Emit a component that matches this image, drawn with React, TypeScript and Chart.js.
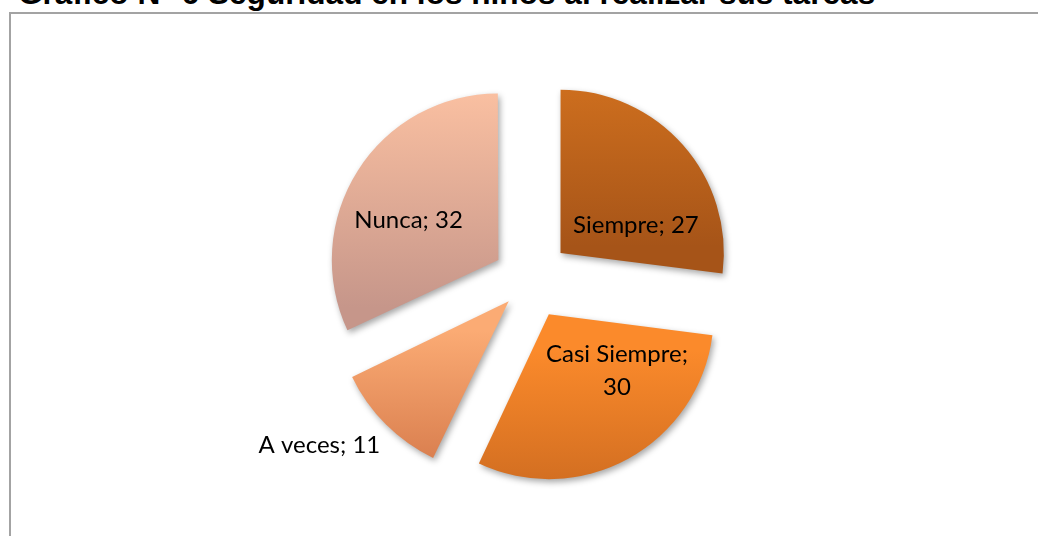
import React, { useEffect, useRef } from "react";
import { Chart, registerables } from "chart.js";

Chart.register(...registerables);

const TITLE = "Gráfico N° 6 Seguridad en los niños al realizar sus tareas";
const categories = ["Siempre", "Casi Siempre", "A veces", "Nunca"];
const values = [27, 30, 11, 32];

// [top, bottom] gradient colours per slice
const gradientColors = [
  ["#d3721f", "#a65418"],
  ["#fb8a2b", "#c9681f"],
  ["#fbab74", "#d5794a"],
  ["#fec3a3", "#c6968a"],
];
// label nudges (px) relative to the slice's default anchor
const labelNudges = [
  [14, 34],
  [28, -25],
  [-124, 86],
  [-18, 14],
];

const RADIUS = 163;
const EXPLODE = 41;
const LABEL_FONT = "24px Lato";

function sliceAngles(i: number) {
  const total = values.reduce((a, b) => a + b, 0);
  let start = 0;
  for (let k = 0; k < i; k++) start += values[k];
  const a0 = (start / total) * Math.PI * 2;
  const a1 = ((start + values[i]) / total) * Math.PI * 2;
  return [a0, a1];
}

export default function App() {
  const ref = useRef<HTMLCanvasElement | null>(null);

  useEffect(() => {
    document.body.style.margin = "0";
    const canvas = ref.current;
    if (!canvas) return;

    const shadowPlugin = {
      id: "shadow",
      beforeDatasetsDraw(chart: any) {
        const ctx = chart.ctx;
        ctx.save();
        ctx.shadowColor = "rgba(0,0,0,0.35)";
        ctx.shadowBlur = 6;
        ctx.shadowOffsetX = 2;
        ctx.shadowOffsetY = 3;
      },
      afterDatasetsDraw(chart: any) {
        chart.ctx.restore();
      },
    };

    const labelPlugin = {
      id: "sliceLabels",
      afterDraw(chart: any) {
        const ctx = chart.ctx;
        const meta = chart.getDatasetMeta(0);
        ctx.save();
        ctx.font = LABEL_FONT;
        ctx.fillStyle = "#000";
        ctx.textAlign = "center";
        ctx.textBaseline = "alphabetic";
        meta.data.forEach((arc: any, i: number) => {
          const p = arc.getProps(["x", "y", "startAngle", "endAngle", "outerRadius"], true);
          const mid = (p.startAngle + p.endAngle) / 2;
          const d = p.outerRadius / 2 + EXPLODE;
          const ax = p.x + Math.cos(mid) * d + labelNudges[i][0];
          const ay = p.y + Math.sin(mid) * d + labelNudges[i][1];
          const full = `${categories[i]}; ${values[i]}`;
          const lines = ctx.measureText(full).width > 150 ? [`${categories[i]};`, `${values[i]}`] : [full];
          lines.forEach((ln: string, k: number) => ctx.fillText(ln, ax, ay + k * 33));
        });
        ctx.restore();
      },
    };

    const chart = new Chart(canvas, {
      type: "pie",
      data: {
        labels: categories,
        datasets: [
          {
            data: values,
            borderWidth: 0,
            radius: RADIUS,
            offset: (c: any) => {
              const [a0, a1] = sliceAngles(c.dataIndex);
              const circ = a1 - a0;
              const fix = 1 - Math.sin(Math.min(Math.PI, circ));
              return (4 * EXPLODE) / (1 + fix);
            },
            backgroundColor: (c: any) => {
              const chart = c.chart;
              const area = chart.chartArea;
              const i = c.dataIndex;
              const cols = gradientColors[i];
              if (!area) return cols[0];
              const cx = (area.left + area.right) / 2;
              const cy = (area.top + area.bottom) / 2;
              const [a0, a1] = sliceAngles(i);
              const mid = (a0 + a1) / 2;
              const tx = Math.sin(mid) * EXPLODE;
              const ty = -Math.cos(mid) * EXPLODE;
              let ymin = cy + ty;
              let ymax = cy + ty;
              for (let s = 0; s <= 40; s++) {
                const t = a0 + ((a1 - a0) * s) / 40;
                const y = cy + ty - Math.cos(t) * RADIUS;
                ymin = Math.min(ymin, y);
                ymax = Math.max(ymax, y);
              }
              const g = chart.ctx.createLinearGradient(0, ymin, 0, ymax);
              g.addColorStop(0, cols[0]);
              g.addColorStop(1, cols[1]);
              return g;
            },
          } as any,
        ],
      },
      options: {
        responsive: false,
        animation: false,
        layout: { padding: { left: 22, right: 0, top: 24, bottom: 0 } },
        plugins: {
          legend: { display: false },
          tooltip: { enabled: false },
          title: { display: false },
        },
        events: [],
      },
      plugins: [shadowPlugin, labelPlugin],
    });
    return () => chart.destroy();
  }, []);

  return (
    <div
      style={{
        position: "fixed",
        left: 0,
        top: 0,
        width: 1038,
        height: 536,
        overflow: "hidden",
        background: "#fff",
      }}
    >
      <div
        style={{
          position: "absolute",
          left: 18,
          top: -23,
          whiteSpace: "nowrap",
          font: "bold 31.6px 'Liberation Sans', Arial, sans-serif",
          lineHeight: "32px",
          color: "#000",
        }}
      >
        {TITLE}
      </div>
      <div
        style={{
          position: "absolute",
          left: 9,
          top: 12,
          width: 1100,
          height: 600,
          border: "2px solid #a3a3a3",
          boxSizing: "border-box",
        }}
      />
      <canvas ref={ref} width={1038} height={536} style={{ position: "absolute", left: 0, top: 0 }} />
    </div>
  );
}
